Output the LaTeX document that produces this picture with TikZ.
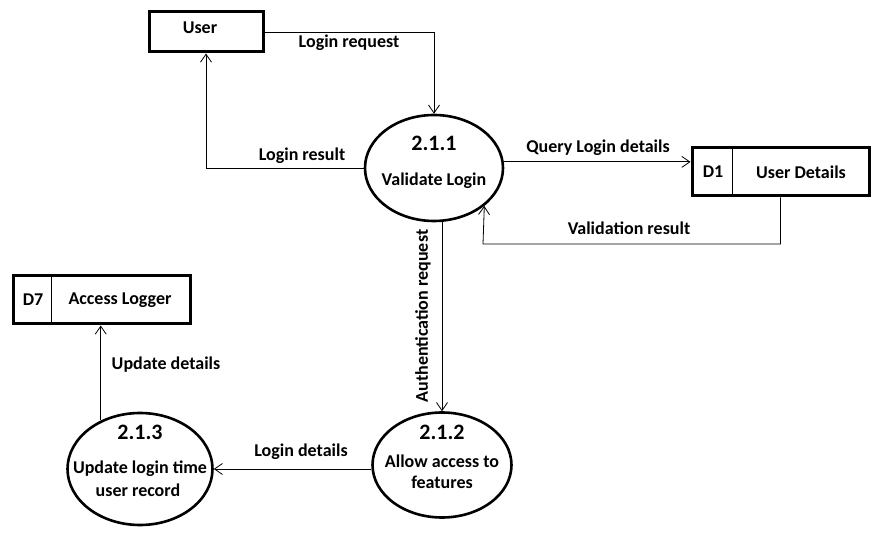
\documentclass[tikz,border=0pt]{standalone}
\usepackage{fontspec}
\setmainfont{Carlito}
\usetikzlibrary{shapes.geometric}
\usetikzlibrary{arrows.meta}

\tikzset{
	process/.style={draw, ellipse, line width=2.6pt, inner sep=0pt},
	store/.style={draw, rectangle, line width=3pt, inner sep=0pt},
	flow/.style={-{Straight Barb[length=8pt, width=11pt]}, line width=0.8pt},
	lbl/.style={font=\bfseries\fontsize{18}{21}\selectfont, inner sep=0pt},
	num/.style={font=\bfseries\fontsize{22}{25}\selectfont, inner sep=0pt}
}

\begin{document}
\begin{tikzpicture}[x=1pt, y=-1pt]
	\useasboundingbox (0,0) rectangle (884,545);
	% external entity and stores
	\node[store, minimum width=114pt, minimum height=40pt] (user) at (206,32) {};
	\node[lbl] (usertxt) at (200,28) {User};
	\node[store, minimum width=177pt, minimum height=48pt] (d1) at (780.5,172) {};
	\draw[line width=0.8pt] ([xshift=42pt]d1.north west) -- ([xshift=42pt]d1.south west);
	\node[lbl] (d1id) at (713,172) {D1};
	\node[lbl] (d1name) at (801,172) {User Details};
	\node[store, minimum width=177pt, minimum height=48pt] (d7) at (101.5,300) {};
	\draw[line width=0.8pt] ([xshift=40pt]d7.north west) -- ([xshift=40pt]d7.south west);
	\node[lbl] (d7id) at (33,300) {D7};
	\node[lbl] (d7name) at (120,300) {Access Logger};
	% processes
	\node[process, minimum width=138pt, minimum height=106pt] (p1) at (434,168) {};
	\node[num] (p1num) at (434,143) {2.1.1};
	\node[lbl] (p1name) at (434,181) {Validate Login};
	\node[process, minimum width=139pt, minimum height=105pt] (p2) at (442,465) {};
	\node[num] (p2num) at (442,432) {2.1.2};
	\node[lbl] (p2name) at (442,461) {Allow access to};
	\node[lbl] (p2name2) at (442,482) {features};
	\node[process, minimum width=145pt, minimum height=112pt] (p3) at (140,469) {};
	\node[num] (p3num) at (140,432) {2.1.3};
	\node[lbl] (p3name) at (140,469) {Update login time};
	\node[lbl] (p3name2) at (138,490) {user record};
	% flows
	\coordinate (valc) at (483,244);
	\draw[flow] (user.east) -| (p1.north);
	\draw[flow] (p1.west) -| (user.south);
	\draw[flow] (p1.5) -- (p1.5 -| d1.west);
	\draw[flow] (d1.south) |- (valc) -- (p1.-37);
	\draw[flow] (p2.north |- p1.south) -- (p2.north);
	\draw[flow] (p2.west |- p3.east) -- (p3.east);
	\draw[flow] (p3.129) -- (p3.129 |- d7.south);
	% flow labels
	\node[lbl] (reqlbl) at (349,43) {Login request};
	\node[lbl] (reslbl) at (302,156) {Login result};
	\node[lbl] (qrylbl) at (598,148) {Query Login details};
	\node[lbl] (vallbl) at (629,228) {Validation result};
	\node[lbl, rotate=90] (authlbl) at (423,316) {Authentication request};
	\node[lbl] (detlbl) at (301,452) {Login details};
	\node[lbl] (updlbl) at (166,365) {Update details};
\end{tikzpicture}
\end{document}
